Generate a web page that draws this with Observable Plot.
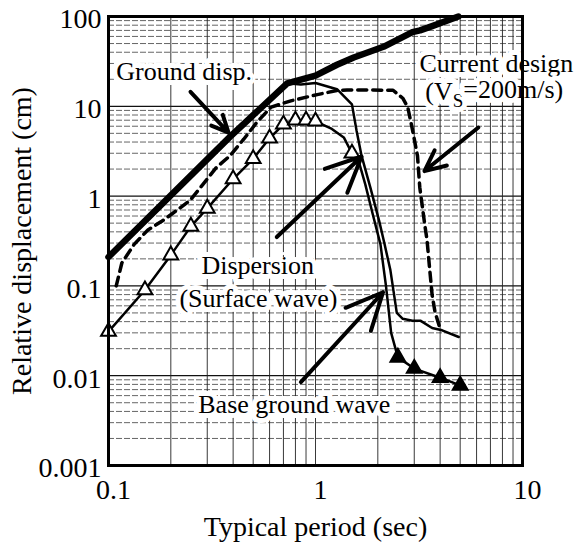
<!DOCTYPE html>
<html><head><meta charset="utf-8">
<script src="https://cdn.jsdelivr.net/npm/d3@7"></script>
<script src="https://cdn.jsdelivr.net/npm/@observablehq/plot@0.6"></script>
<style>
body{margin:0;background:#fff}
#chart svg, #chart text, #chart tspan{font-family:"Liberation Serif","DejaVu Serif",serif !important}
</style>
</head><body><div id="chart"></div>
<script>
// ---- data (period in sec, relative displacement in cm) ----
const groundT = [0.1, 0.387, 0.73, 1.0, 1.27, 1.53, 2.13, 2.94, 3.2, 3.66, 4.9];
const groundD = [0.21, 4.6, 18, 22, 29, 35, 46, 67, 70, 78, 100];

const dispT = [0.73, 0.85, 1.0, 1.27, 1.5, 1.58, 1.67, 1.84, 2.03, 2.15, 2.3, 2.47, 2.64, 2.94, 3.21, 3.66, 4.09, 4.92];
const dispD = [18, 17.5, 18.2, 15.5, 10.5, 5.3, 2.8, 1.25, 0.53, 0.3, 0.15, 0.05, 0.043, 0.041, 0.041, 0.034, 0.032, 0.027];

const baseT = [0.1, 0.15, 0.2, 0.25, 0.3, 0.4, 0.5, 0.6, 0.7, 0.8, 0.9, 1.0, 1.2, 1.37, 1.5, 1.62, 1.74, 1.9, 2.06, 2.19, 2.32, 2.5, 3, 4, 5];
const baseD = [0.031, 0.09, 0.22, 0.46, 0.73, 1.55, 2.6, 4.4, 6.3, 7.0, 7.0, 6.8, 5.6, 4.5, 3.0, 2.4, 1.35, 0.6, 0.29, 0.1, 0.03, 0.016, 0.012, 0.0095, 0.0078];
const baseMarkT = [0.1, 0.15, 0.2, 0.25, 0.3, 0.4, 0.5, 0.6, 0.7, 0.8, 0.9, 1.0, 1.5, 2.5, 3, 4, 5];

const curT = [0.109, 0.116, 0.133, 0.155, 0.18, 0.2, 0.247, 0.286, 0.33, 0.387, 0.45, 0.52, 0.61, 0.76, 1.02, 1.27, 1.42, 2.37, 2.64, 2.79, 2.94, 3.11, 3.19, 3.36, 3.46, 3.55, 3.66, 3.78, 3.96];
const curD = [0.1, 0.18, 0.29, 0.42, 0.52, 0.62, 0.89, 1.35, 2.05, 2.83, 4.3, 6.6, 9.8, 11.5, 13.5, 15, 15.2, 15.1, 12.3, 9.8, 5.5, 2.8, 1.25, 0.51, 0.32, 0.166, 0.079, 0.051, 0.036];

// ---- ticks ----
const xTickVals = [0.1, 1, 10];
const xTickLabels = ["0.1", "1", "10"];
const yTickVals = [0.001, 0.01, 0.1, 1, 10, 100];
const yTickLabels = ["0.001", "0.01", "0.1", "1", "10", "100"];
const xTitle = "Typical period (sec)";
const yTitle = "Relative displacement (cm)";

// ---- annotations (data coordinates) ----
const noteText = ["Ground disp.", "Current design", "(VS=200m/s)", "Dispersion", "(Surface wave)", "Base ground wave"];
const noteT    = [0.109, 3.18, 3.39, 0.526, 0.53, 0.79];
const noteD    = [24.5, 30.2, 14.5, 0.17, 0.073, 0.0047];
const noteAnchor = ["start", "start", "start", "middle", "middle", "middle"];

const arrowT1 = [0.249, 6.12, 0.65, 0.85];
const arrowD1 = [14.5, 5.8, 0.35, 0.0085];
const arrowT2 = [0.38, 3.36, 1.67, 2.12];
const arrowD2 = [5.1, 1.9, 2.76, 0.085];

// ---- build tables ----
const zip = (T, D) => T.map((t, i) => ({t, d: D[i]}));
const ground = zip(groundT, groundD);
const disp = zip(dispT, dispD);
const base = zip(baseT, baseD);
const baseMarks = base.filter(p => baseMarkT.includes(p.t));
const cur = zip(curT, curD);
const notes = noteText.map((s, i) => ({s, t: noteT[i], d: noteD[i], a: noteAnchor[i]}));
const arrows = arrowT1.map((t, i) => ({x1: t, y1: arrowD1[i], x2: arrowT2[i], y2: arrowD2[i]}));

const xDec = [0.1, 1];
const yDec = [0.001, 0.01, 0.1, 1, 10];
const ks = [2, 3, 4, 5, 6, 7, 8, 9];
const xGrid = xDec.flatMap(d => ks.map(k => k * d)).concat([1]);
const yMinor = yDec.flatMap(d => ks.map(k => k * d));
const yMajor = [0.01, 0.1, 1, 10];

const serif = "Liberation Serif";
const fmt = (vals, labels) => v => labels[vals.findIndex(u => Math.abs(u - v) / v < 1e-6)] ?? "";
const noteStyle = {x: "t", y: "d", text: "s", fontSize: 26, fontFamily: serif, fill: "black", stroke: "white", strokeWidth: 10, paintOrder: "stroke"};

const chart = Plot.plot({
  width: 577, height: 548,
  marginLeft: 108, marginRight: 55, marginTop: 16, marginBottom: 83,
  style: {fontFamily: "'Liberation Serif', serif", fontSize: "28px", background: "white", color: "black"},
  x: {type: "log", domain: [0.1, 10]},
  y: {type: "log", domain: [0.001, 100]},
  marks: [
    Plot.ruleY(yMinor, {stroke: "#555", strokeWidth: 0.9, strokeDasharray: "6,2"}),
    Plot.ruleY(yMajor, {stroke: "#111", strokeWidth: 1.3}),
    Plot.ruleX(xGrid, {stroke: "#222", strokeWidth: 0.9}),
    Plot.line(cur, {x: "t", y: "d", stroke: "black", strokeWidth: 3.5, strokeDasharray: "9,6"}),
    Plot.line(disp, {x: "t", y: "d", stroke: "black", strokeWidth: 2.5}),
    Plot.line(base, {x: "t", y: "d", stroke: "black", strokeWidth: 2.5}),
    Plot.dot(baseMarks, {x: "t", y: "d", symbol: "triangle", r: 5.5, fill: d => d.t >= 2.5 ? "black" : "white", stroke: "black", strokeWidth: 2}),
    Plot.line(ground, {x: "t", y: "d", stroke: "black", strokeWidth: 6.5, strokeLinecap: "round"}),
    Plot.text(notes.filter(n => n.a === "start"), {...noteStyle, textAnchor: "start"}),
    Plot.text(notes.filter(n => n.a === "middle"), {...noteStyle, textAnchor: "middle"}),
    Plot.arrow(arrows, {x1: "x1", y1: "y1", x2: "x2", y2: "y2", stroke: "black", strokeWidth: 4, headLength: 16, headAngle: 50}),
    Plot.frame({stroke: "black", strokeWidth: 3}),
    Plot.axisX({ticks: xTickVals, tickFormat: fmt(xTickVals, xTickLabels), tickSize: 0, tickPadding: 14, dx: 5, fontSize: 28, fontFamily: serif, label: null}),
    Plot.axisY({ticks: yTickVals, tickFormat: fmt(yTickVals, yTickLabels), tickSize: 0, tickPadding: 7, fontSize: 28, fontFamily: serif, dy: 3, label: null}),
    Plot.text([yTitle], {frameAnchor: "left", textAnchor: "middle", dx: -86, rotate: -90, fontSize: 28, fontFamily: serif, text: d => d}),
    Plot.text([xTitle], {frameAnchor: "bottom", textAnchor: "middle", dy: 70, fontSize: 28, fontFamily: serif, text: d => d})
  ]
});
document.getElementById("chart").appendChild(chart);

// subscript S in (VS=200m/s)
d3.select(chart).selectAll("text").each(function() {
  if (this.textContent === "(VS=200m/s)") {
    const el = d3.select(this);
    el.text(null);
    el.append("tspan").text("(V");
    el.append("tspan").attr("dy", "0.35em").attr("font-size", "19").text("S");
    el.append("tspan").attr("dy", "-0.35em").text("=200m/s)");
  }
});
</script></body></html>
